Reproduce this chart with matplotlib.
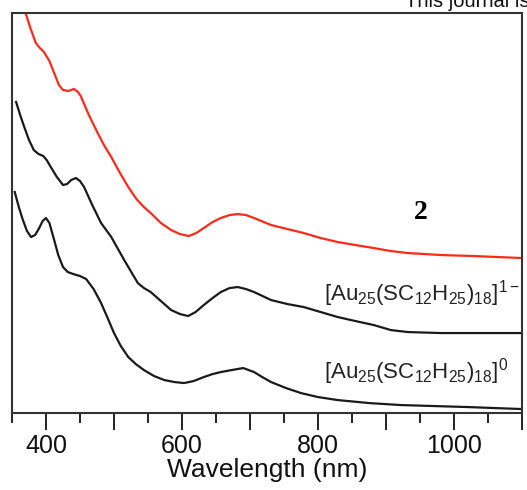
import matplotlib
matplotlib.use('Agg')
import matplotlib.pyplot as plt
from matplotlib.ticker import MultipleLocator

plt.rcParams['font.family'] = ['Liberation Sans', 'DejaVu Sans']
plt.rcParams['mathtext.fontset'] = 'custom'
plt.rcParams['mathtext.rm'] = 'Liberation Sans'
plt.rcParams['mathtext.it'] = 'Liberation Sans'

# UV-vis-NIR spectra, offset for clarity (arbitrary units)
wl_red = [369, 377, 385, 391, 397, 405, 412, 419, 425, 433, 441, 447, 451,
          463, 476, 486, 496, 508, 521, 533, 544, 554, 569, 584, 597, 610,
          621, 632, 645, 657, 670, 682, 694, 706, 731, 755, 779, 804, 829,
          855, 882, 907, 932, 981, 1029, 1100]
abs_red = [4.02, 3.85, 3.70, 3.65, 3.61, 3.52, 3.40, 3.28, 3.23, 3.22, 3.24,
           3.21, 3.17, 2.98, 2.80, 2.67, 2.56, 2.41, 2.26, 2.14, 2.06, 2.00,
           1.90, 1.83, 1.79, 1.77, 1.80, 1.85, 1.91, 1.95, 1.98, 1.99, 1.98,
           1.95, 1.88, 1.84, 1.80, 1.75, 1.71, 1.68, 1.65, 1.62, 1.60, 1.58,
           1.57, 1.55]

wl_anion = [356, 362, 368, 375, 382, 389, 396, 401, 407, 416, 425, 431, 437,
            444, 450, 456, 468, 481, 496, 515, 535, 544, 554, 569, 584, 597,
            609, 620, 632, 645, 657, 670, 682, 694, 706, 731, 755, 779, 804,
            829, 855, 882, 907, 932, 981, 1100]
abs_anion = [3.11, 2.98, 2.86, 2.73, 2.63, 2.59, 2.57, 2.53, 2.46, 2.36, 2.28,
             2.29, 2.33, 2.35, 2.32, 2.26, 2.08, 1.90, 1.76, 1.53, 1.30, 1.25,
             1.21, 1.12, 1.03, 0.99, 0.97, 1.01, 1.08, 1.15, 1.21, 1.25, 1.26,
             1.24, 1.21, 1.13, 1.09, 1.06, 1.01, 0.96, 0.92, 0.88, 0.83, 0.81,
             0.80, 0.80]

wl_neutral = [354, 360, 366, 372, 378, 384, 390, 395, 400, 405, 412, 418, 425,
              432, 440, 450, 459, 470, 481, 490, 500, 510, 521, 532, 544, 559,
              574, 589, 603, 617, 632, 645, 657, 673, 690, 706, 718, 731, 753,
              775, 800, 829, 875, 922, 1021, 1100]
abs_neutral = [2.21, 2.06, 1.93, 1.82, 1.76, 1.78, 1.85, 1.92, 1.95, 1.90,
               1.73, 1.58, 1.46, 1.41, 1.39, 1.37, 1.34, 1.24, 1.10, 0.96,
               0.80, 0.67, 0.56, 0.49, 0.43, 0.37, 0.33, 0.31, 0.30, 0.32,
               0.36, 0.39, 0.41, 0.43, 0.45, 0.41, 0.36, 0.31, 0.25, 0.20,
               0.16, 0.13, 0.10, 0.08, 0.06, 0.04]

fig = plt.figure(figsize=(5.27, 4.90), dpi=100)
ax = fig.add_axes([0.0228, 0.157, 0.9677, 0.8165])

ax.plot(wl_red, abs_red, color='#ff2a1a', lw=1.6, solid_joinstyle='round')
ax.plot(wl_anion, abs_anion, color='#1a1a1a', lw=1.6, solid_joinstyle='round')
ax.plot(wl_neutral, abs_neutral, color='#1a1a1a', lw=1.6, solid_joinstyle='round')

ax.set_xlim(350, 1100)
ax.set_ylim(0, 4.0)
ax.set_yticks([])
ax.xaxis.set_minor_locator(MultipleLocator(50))
ax.set_xticks([400, 500, 600, 700, 800, 900, 1000, 1100])
ax.set_xticklabels(['400', '', '600', '', '800', '', '1000', ''])
ax.tick_params(axis='x', which='major', direction='out', length=12, width=1.4,
               labelsize=18, pad=3, colors='#222222', labelcolor='#111111')
ax.tick_params(axis='x', which='minor', direction='out', length=7, width=1.4,
               colors='#222222')
for s in ax.spines.values():
    s.set_linewidth(1.5)
    s.set_color('#333333')

ax.set_xlabel('Wavelength (nm)', fontsize=19, labelpad=0, color='#111111')

ax.text(951, 2.01, '2', fontsize=20, fontweight='bold',
        family='Liberation Serif', ha='center', va='center')
ax.text(809, 1.13, r'[Au$_{25}$(SC$_{12}$H$_{25}$)$_{18}$]$^{1-}$',
        fontsize=16, ha='left', va='baseline', color='#222222')
ax.text(809, 0.35, r'[Au$_{25}$(SC$_{12}$H$_{25}$)$_{18}$]$^{0}$',
        fontsize=16, ha='left', va='baseline', color='#222222')

fig.text(405 / 527, 1 - 7 / 490, 'This journal is', fontsize=14.5,
         ha='left', va='baseline', color='#111111')

fig.savefig('out.png', dpi=100)
